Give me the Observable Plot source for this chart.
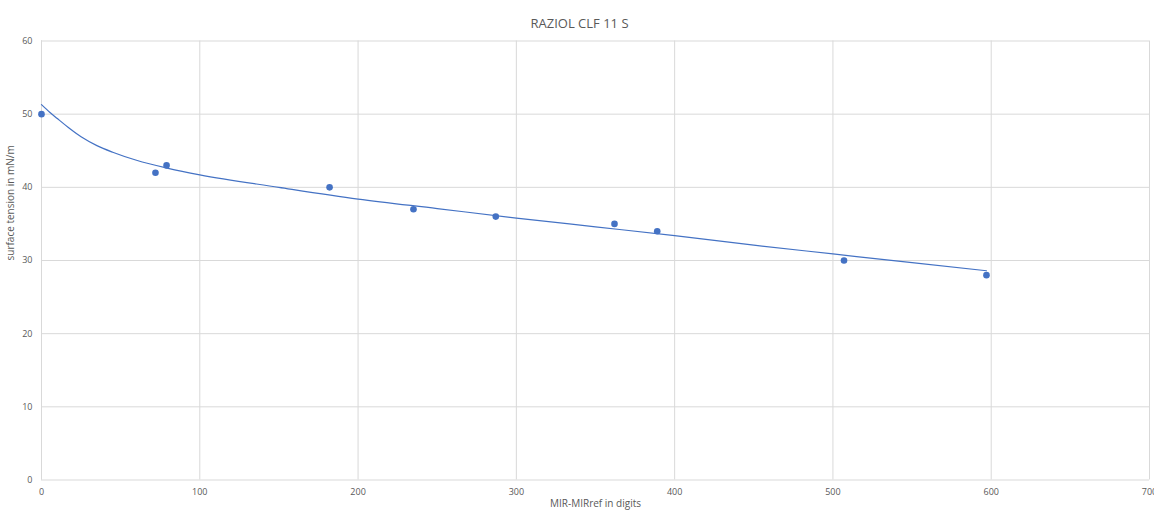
<!DOCTYPE html>
<html>
<head>
<meta charset="utf-8">
<script src="https://cdn.jsdelivr.net/npm/d3@7"></script>
<script src="https://cdn.jsdelivr.net/npm/@observablehq/plot@0.6"></script>
<style>
  body { margin: 0; background: #fff; }
  svg { display: block; }
</style>
</head>
<body>
<div id="chart"></div>
<script>
const title = "RAZIOL CLF 11 S";
const xLabel = "MIR-MIRref in digits";
const yLabel = "surface tension in mN/m";

// measured points
const pointX = [0, 72, 79, 182, 235, 287, 362, 389, 507, 597];
const pointY = [50, 42, 43, 40, 37, 36, 35, 34, 30, 28];

// trend curve
const trendX = [0, 5, 10, 18, 25, 35, 45, 60, 80, 100, 150, 200, 250, 300, 350, 400, 450, 500, 550, 597];
const trendY = [51.3, 50.3, 49.4, 48.0, 46.9, 45.7, 44.8, 43.7, 42.6, 41.7, 40.0, 38.4, 37.1, 35.8, 34.6, 33.4, 32.1, 30.9, 29.7, 28.6];

const xTicks = [0, 100, 200, 300, 400, 500, 600, 700];
const yTicks = [0, 10, 20, 30, 40, 50, 60];

const points = pointX.map((x, i) => ({x, y: pointY[i]}));
const trend = trendX.map((x, i) => ({x, y: trendY[i]}));

const blue = "#4472C4";
const grid = "#d9d9d9";
const textColor = "#595959";

const chart = Plot.plot({
  width: 1154,
  height: 513,
  marginLeft: 41,
  marginRight: 5,
  marginTop: 40.5,
  marginBottom: 33.5,
  style: {fontFamily: "'Open Sans', 'Liberation Sans', sans-serif", fontSize: "9px", color: textColor, background: "#fff"},
  x: {domain: [0, 700], ticks: xTicks, label: null},
  y: {domain: [0, 60], ticks: yTicks, label: null},
  marks: [
    Plot.gridX(xTicks, {stroke: grid, strokeOpacity: 1, strokeWidth: 1}),
    Plot.gridY(yTicks, {stroke: grid, strokeOpacity: 1, strokeWidth: 1}),
    Plot.ruleX([0], {stroke: grid, strokeWidth: 1}),
    Plot.axisX({ticks: xTicks, tickSize: 0, tickPadding: 9, fill: textColor, fontSize: 9, label: null}),
    Plot.axisY({ticks: yTicks, tickSize: 0, tickPadding: 9, fill: textColor, fontSize: 9, label: null}),
    Plot.line(trend, {x: "x", y: "y", stroke: blue, strokeWidth: 1.2, curve: "monotone-x"}),
    Plot.dot(points, {x: "x", y: "y", r: 3.3, fill: blue, stroke: "none"}),
    Plot.text([title], {frameAnchor: "top", dy: -22, dx: -16, fontSize: 13, fill: textColor}),
    Plot.text([xLabel], {frameAnchor: "bottom", dy: 27, fontSize: 10, fill: textColor}),
    Plot.text([yLabel], {frameAnchor: "left", dx: -31, rotate: -90, fontSize: 10, fill: textColor})
  ]
});
document.getElementById("chart").appendChild(chart);
</script>
</body>
</html>
